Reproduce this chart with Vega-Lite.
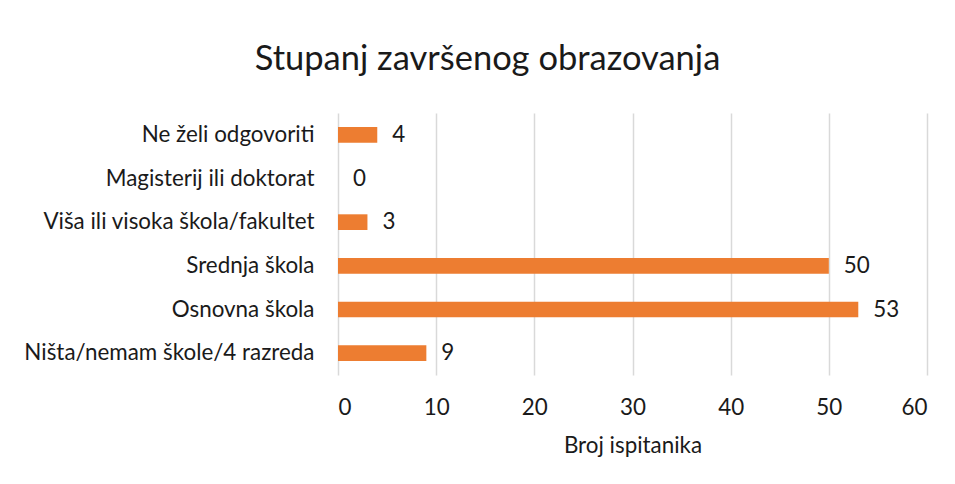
{
  "$schema": "https://vega.github.io/schema/vega-lite/v6.json",
  "width": 589,
  "height": 262,
  "autosize": {"type": "none"},
  "padding": {"left": 338, "top": 113, "right": 28, "bottom": 109},
  "background": "white",
  "title": {
    "text": "Stupanj završenog obrazovanja",
    "font": "Lato",
    "fontSize": 34.5,
    "fontWeight": "normal",
    "color": "#1a1a1a",
    "anchor": "middle",
    "frame": "group",
    "dx": -145,
    "offset": 36
  },
  "data": {
    "values": [
      {"kategorija": "Ne želi odgovoriti", "broj": 4},
      {"kategorija": "Magisterij ili doktorat", "broj": 0},
      {"kategorija": "Viša ili visoka škola/fakultet", "broj": 3},
      {"kategorija": "Srednja škola", "broj": 50},
      {"kategorija": "Osnovna škola", "broj": 53},
      {"kategorija": "Ništa/nemam škole/4 razreda", "broj": 9}
    ]
  },
  "encoding": {
    "y": {
      "field": "kategorija",
      "type": "nominal",
      "sort": null,
      "scale": {"paddingInner": 0.64, "paddingOuter": 0.32},
      "axis": {
        "title": null,
        "ticks": false,
        "domain": false,
        "labelPadding": 24,
        "labelFont": "Lato",
        "labelFontSize": 22.4,
        "labelColor": "#1a1a1a",
        "labelLimit": 400
      }
    },
    "x": {
      "field": "broj",
      "type": "quantitative",
      "scale": {"domain": [0, 60], "nice": false},
      "axis": {
        "title": "Broj ispitanika",
        "titleFont": "Lato",
        "titleFontSize": 22.4,
        "titleFontWeight": "normal",
        "titleColor": "#1a1a1a",
        "titlePadding": 16,
        "values": [0, 10, 20, 30, 40, 50, 60],
        "ticks": false,
        "domain": false,
        "labelPadding": 21,
        "labelFont": "Lato",
        "labelFontSize": 22.4,
        "labelColor": "#1a1a1a",
        "grid": true,
        "gridColor": "#D9D9D9",
        "gridWidth": 1.5
      }
    }
  },
  "layer": [
    {"mark": {"type": "bar", "color": "#ED7D31"}},
    {
      "mark": {"type": "text", "align": "left", "dx": 15, "font": "Lato", "fontSize": 22.4, "color": "#1a1a1a"},
      "encoding": {"text": {"field": "broj", "type": "quantitative"}}
    }
  ],
  "config": {"view": {"stroke": null}}
}
